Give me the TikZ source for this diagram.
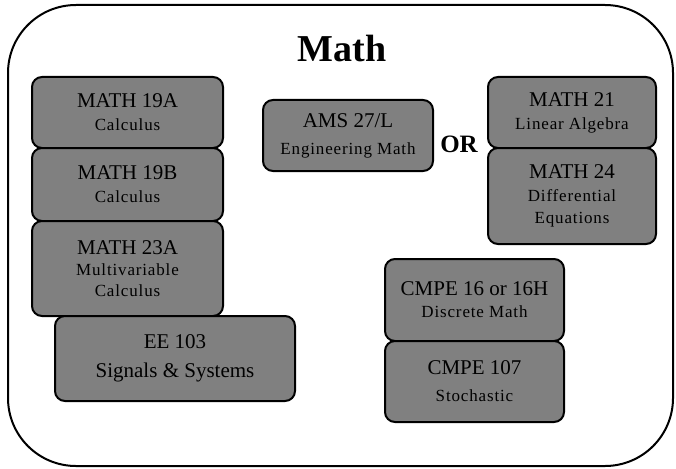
\documentclass[tikz,border=0pt]{standalone}
\usepackage{fontspec}
\setmainfont{Liberation Serif}
\newfontfamily\subfont[LetterSpace=5]{Liberation Serif}
\newcommand{\cA}{\fontsize{21}{23}\selectfont}
\newcommand{\cB}{\subfont\fontsize{17}{23}\selectfont}
\definecolor{boxgray}{HTML}{808080}
\begin{document}
\begin{tikzpicture}[x=1pt,y=-1pt,
  course/.style={draw=black, line width=2pt, fill=boxgray, rounded corners=10pt,
    align=center, inner sep=0pt, text=black, font=\fontsize{17}{23}\selectfont},
  frame/.style={draw=black, line width=2pt, rounded corners=68pt}]
\useasboundingbox (0,0) rectangle (676,468);
\draw[frame] (8,5) rectangle (673,466);
\node[anchor=base, font=\bfseries\fontsize{38}{40}\selectfont] (title) at (342,62) {Math};
% left column
\node[course, minimum width=191, minimum height=71] (m19a) at (127.5,112.5) {\cA MATH 19A\\ \cB Calculus};
\node[course, minimum width=191, minimum height=73] (m19b) at (127.5,184.5) {\cA MATH 19B\\ \cB Calculus};
\node[course, minimum width=191, minimum height=95] (m23a) at (127.5,268.5) {\cA MATH 23A\\[-2pt] \cB Multivariable\\[-2pt] \cB Calculus};
\node[course, minimum width=240, minimum height=85] (ee103) at (175,358.5) {\cA EE 103\\[6pt] \cA Signals \& Systems};
% middle
\node[course, minimum width=170, minimum height=71] (ams) at (348,135.5) {\cA AMS 27/L\\[4pt] \cB Engineering Math};
\node[anchor=base, font=\bfseries\fontsize{25}{27}\selectfont] (or) at (459,152) {OR};
% right column
\node[course, minimum width=168, minimum height=71] (m21) at (572,112.5) {\cA MATH 21\\ \cB Linear Algebra};
\node[course, minimum width=168, minimum height=96] (m24) at (572,196) {\cA MATH 24\\ \cB Differential\\[-1pt] \cB Equations};
\node[course, minimum width=179, minimum height=82] (c16) at (474.5,300) {\cA CMPE 16 or 16H\\[-1pt] \cB Discrete Math};
\node[course, minimum width=179, minimum height=81] (c107) at (474.5,381.5) {\cA CMPE 107\\[4pt] \cB Stochastic};
\end{tikzpicture}
\end{document}
